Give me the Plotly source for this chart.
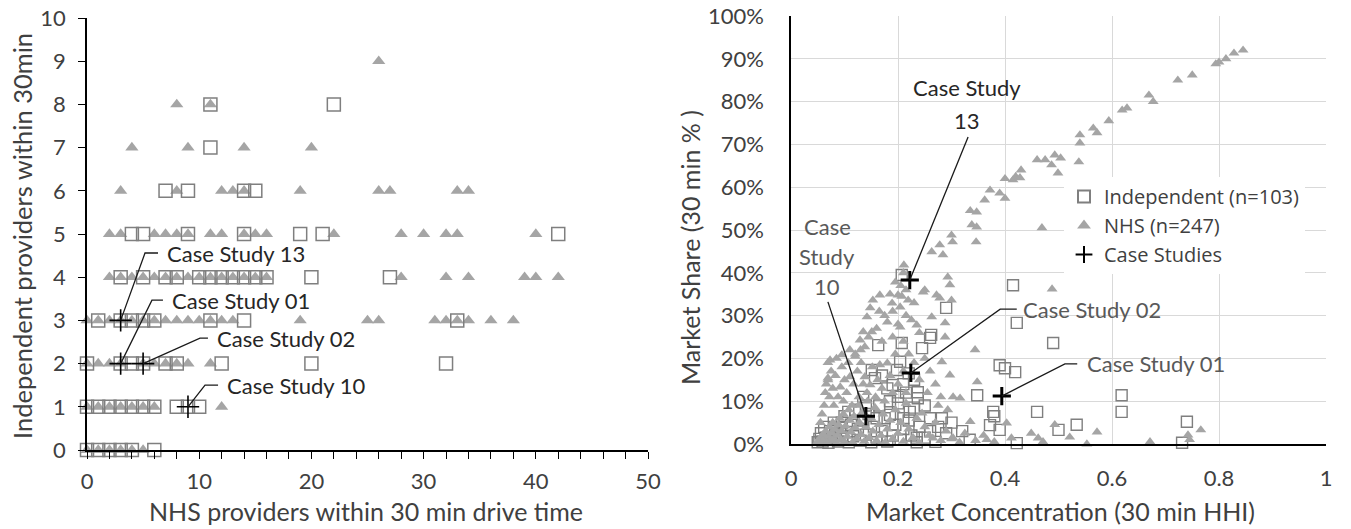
import plotly.graph_objects as go

# the page body has an 8px margin, so window pixel p sits at figure pixel p - OFF
OFF = 8
FW, FH = 1351, 529

# ---------------- Left panel data (x = NHS providers, grouped by y = independent providers) ----------------
nhs_row0 = [0, 1, 2, 3, 4, 5]
nhs_row1 = [0, 1, 2, 3, 4, 5, 6, 12]
nhs_row2 = [0, 1, 2, 3, 5, 6, 7, 8, 9, 11]
nhs_row3 = [0, 1, 2, 3, 4, 5, 6, 7, 8, 9, 10, 11, 12, 13, 19, 25, 26, 31, 32, 33, 34, 36, 38]
nhs_row4 = [2, 3, 4, 5, 6, 7, 8, 9, 10, 11, 12, 13, 14, 15, 16, 28, 32, 34, 39, 40, 42]
nhs_row5 = [2, 3, 6, 7, 8, 9, 11, 12, 14, 15, 16, 22, 28, 30, 32, 33, 40]
nhs_row6 = [3, 8, 12, 13, 14, 19, 26, 27, 33, 34]
nhs_row7 = [4, 9, 14, 20]
nhs_row8 = [8, 11]
nhs_row9 = [26]

ind_row0 = [0, 1, 2, 3, 4, 6]
ind_row1 = [0, 1, 2, 3, 4, 5, 6, 8, 9, 10]
ind_row2 = [0, 3, 4, 5, 7, 8, 12, 20, 32]
ind_row3 = [1, 3, 4, 5, 6, 11, 14, 33]
ind_row4 = [3, 5, 7, 8, 10, 11, 12, 13, 14, 15, 16, 20, 27]
ind_row5 = [4, 5, 9, 14, 19, 21, 42]
ind_row6 = [7, 9, 14, 15]
ind_row7 = [11]
ind_row8 = [11, 22]

cs_names = ["Case Study 13", "Case Study 01", "Case Study 02", "Case Study 10"]
cs_left_x = [3, 3, 5, 9]
cs_left_y = [3, 2, 2, 1]

# ---------------- Right panel data (HHI, market share) ----------------
nhs_points = [
    # upper frontier
    (0.845, 0.920), (0.828, 0.913), (0.813, 0.900), (0.800, 0.892), (0.794, 0.888),
    (0.750, 0.862), (0.723, 0.850), (0.677, 0.800), (0.669, 0.815), (0.628, 0.785),
    (0.619, 0.780), (0.594, 0.755), (0.572, 0.727), (0.565, 0.738), (0.540, 0.722),
    (0.540, 0.703), (0.538, 0.659), (0.504, 0.668), (0.493, 0.675), (0.487, 0.652),
    (0.499, 0.633), (0.475, 0.664), (0.460, 0.664), (0.430, 0.640), (0.415, 0.617),
    (0.420, 0.625), (0.428, 0.622), (0.400, 0.620), (0.372, 0.593), (0.390, 0.586),
    (0.362, 0.570), (0.400, 0.574), (0.335, 0.545), (0.347, 0.542), (0.338, 0.512),
    (0.347, 0.507), (0.346, 0.472), (0.300, 0.488), (0.302, 0.472), (0.278, 0.465),
    (0.263, 0.449), (0.284, 0.442), (0.211, 0.418), (0.469, 0.505), (0.488, 0.362),
    # middle band
    (0.195, 0.378), (0.293, 0.390), (0.297, 0.372), (0.250, 0.360), (0.166, 0.348),
    (0.200, 0.348), (0.207, 0.345), (0.219, 0.336), (0.272, 0.348), (0.278, 0.341),
    (0.300, 0.336), (0.153, 0.336), (0.189, 0.329), (0.204, 0.320), (0.148, 0.318),
    (0.142, 0.297), (0.180, 0.285), (0.235, 0.278), (0.263, 0.297), (0.288, 0.283),
    (0.204, 0.273), (0.135, 0.262), (0.151, 0.262), (0.288, 0.250), (0.247, 0.355),
    (0.129, 0.243), (0.138, 0.227), (0.344, 0.220), (0.282, 0.192), (0.297, 0.161),
    (0.073, 0.196), (0.095, 0.208), (0.069, 0.154), (0.348, 0.145), (0.303, 0.110),
    (0.316, 0.107), (0.335, 0.052), (0.293, 0.080), (0.245, 0.072), (0.403, 0.049),
    (0.265, 0.014), (0.303, 0.014), (0.366, 0.010), (0.493, 0.045), (0.572, 0.028),
    (0.521, 0.016), (0.553, 0.000), (0.449, 0.025), (0.462, 0.014), (0.471, 0.005),
    (0.412, 0.014), (0.766, 0.033), (0.742, 0.021), (0.745, 0.010), (0.671, 0.005),
    (0.190, 0.250), (0.210, 0.240), (0.160, 0.270), (0.170, 0.240), (0.120, 0.210),
    (0.110, 0.220), (0.130, 0.220), (0.145, 0.250), (0.175, 0.300), (0.190, 0.310),
    (0.165, 0.310), (0.185, 0.350), (0.210, 0.400), (0.205, 0.370), (0.215, 0.360),
    (0.230, 0.330), (0.225, 0.290), (0.240, 0.260), (0.200, 0.280), (0.215, 0.300),
    # wedge
    (0.055, 0.050), (0.058, 0.070), (0.062, 0.090), (0.064, 0.120), (0.066, 0.140),
    (0.069, 0.150), (0.069, 0.190), (0.072, 0.110), (0.075, 0.170), (0.078, 0.130),
    (0.080, 0.090), (0.083, 0.160), (0.085, 0.200), (0.088, 0.110), (0.092, 0.133),
    (0.095, 0.180), (0.098, 0.100), (0.100, 0.150), (0.104, 0.120), (0.107, 0.190),
    (0.110, 0.157), (0.114, 0.090), (0.117, 0.140), (0.120, 0.205), (0.124, 0.170),
    (0.127, 0.110), (0.131, 0.190), (0.135, 0.140), (0.138, 0.157), (0.142, 0.120),
    (0.148, 0.138), (0.152, 0.180), (0.158, 0.110), (0.162, 0.150), (0.166, 0.185),
    (0.170, 0.130), (0.175, 0.100), (0.180, 0.189), (0.185, 0.160), (0.190, 0.120),
    (0.195, 0.210), (0.200, 0.140), (0.210, 0.170), (0.215, 0.120), (0.220, 0.210),
    (0.230, 0.190), (0.240, 0.150), (0.250, 0.200), (0.255, 0.120), (0.260, 0.170),
    (0.270, 0.140), (0.275, 0.090), (0.280, 0.110),
    # dense low-share cluster
    (0.048, 0.002), (0.052, 0.008), (0.055, 0.015), (0.058, 0.004), (0.060, 0.022),
    (0.062, 0.010), (0.065, 0.030), (0.067, 0.003), (0.070, 0.018), (0.072, 0.040),
    (0.074, 0.008), (0.076, 0.026), (0.078, 0.050), (0.080, 0.012), (0.082, 0.034),
    (0.085, 0.002), (0.087, 0.020), (0.089, 0.045), (0.091, 0.060), (0.093, 0.010),
    (0.095, 0.030), (0.098, 0.070), (0.100, 0.005), (0.102, 0.042), (0.105, 0.018),
    (0.108, 0.080), (0.110, 0.055), (0.112, 0.028), (0.115, 0.004), (0.118, 0.065),
    (0.120, 0.038), (0.123, 0.012), (0.126, 0.090), (0.128, 0.050), (0.131, 0.022),
    (0.134, 0.075), (0.137, 0.006), (0.140, 0.040), (0.143, 0.100), (0.146, 0.015),
    (0.150, 0.060), (0.153, 0.030), (0.157, 0.085), (0.160, 0.008), (0.164, 0.045),
    (0.168, 0.020), (0.172, 0.070), (0.176, 0.004), (0.180, 0.035), (0.185, 0.055),
    (0.190, 0.012), (0.195, 0.080), (0.200, 0.025), (0.205, 0.050), (0.210, 0.006),
    (0.215, 0.095), (0.220, 0.035), (0.228, 0.015), (0.235, 0.060), (0.240, 0.003),
    (0.250, 0.040), (0.258, 0.020), (0.270, 0.050), (0.280, 0.008), (0.290, 0.030),
    (0.300, 0.012), (0.315, 0.004), (0.325, 0.025), (0.345, 0.008), (0.360, 0.020),
    (0.380, 0.005),
]

ind_points = [
    (0.163, 0.231), (0.207, 0.236), (0.245, 0.224), (0.260, 0.248), (0.262, 0.255),
    (0.290, 0.318), (0.207, 0.395), (0.415, 0.371), (0.422, 0.283), (0.490, 0.236),
    (0.419, 0.168), (0.618, 0.114), (0.618, 0.075), (0.460, 0.075), (0.740, 0.052),
    (0.731, 0.003), (0.534, 0.045), (0.500, 0.033), (0.422, 0.002), (0.204, 0.192),
    (0.390, 0.184), (0.400, 0.177), (0.348, 0.114), (0.237, 0.121), (0.237, 0.107),
    (0.378, 0.075), (0.380, 0.065), (0.260, 0.060), (0.282, 0.060), (0.222, 0.075),
    (0.372, 0.044), (0.390, 0.033), (0.290, 0.025), (0.334, 0.010), (0.235, 0.015),
    (0.135, 0.110), (0.157, 0.154), (0.190, 0.138), (0.198, 0.173), (0.151, 0.173),
    (0.107, 0.075),
    (0.050, 0.004), (0.053, 0.012), (0.056, 0.025), (0.059, 0.006), (0.062, 0.040),
    (0.066, 0.015), (0.070, 0.003), (0.073, 0.030), (0.077, 0.010), (0.080, 0.050),
    (0.084, 0.020), (0.088, 0.006), (0.092, 0.038), (0.096, 0.015), (0.100, 0.065),
    (0.104, 0.028), (0.108, 0.004), (0.112, 0.045), (0.116, 0.018), (0.120, 0.080),
    (0.125, 0.035), (0.130, 0.008), (0.135, 0.055), (0.140, 0.022), (0.145, 0.070),
    (0.150, 0.004), (0.155, 0.040), (0.160, 0.015), (0.165, 0.090), (0.170, 0.030),
    (0.175, 0.060), (0.180, 0.006), (0.185, 0.068), (0.190, 0.020), (0.195, 0.045),
    (0.200, 0.095), (0.205, 0.010), (0.210, 0.035), (0.215, 0.120), (0.220, 0.055),
    (0.225, 0.020), (0.230, 0.085), (0.235, 0.004), (0.240, 0.040), (0.250, 0.015),
    (0.260, 0.030), (0.270, 0.005), (0.180, 0.130), (0.170, 0.160), (0.200, 0.110),
    (0.210, 0.140), (0.220, 0.165), (0.230, 0.150), (0.095, 0.050), (0.140, 0.090),
    (0.160, 0.060), (0.185, 0.100), (0.210, 0.060), (0.250, 0.090), (0.275, 0.040),
    (0.300, 0.050), (0.320, 0.030),
]

cs_right_hhi = [0.222, 0.394, 0.224, 0.140]
cs_right_share = [0.383, 0.112, 0.166, 0.065]

# ---------------- styles ----------------
FONT = "Lato"
TXT = "#404040"
TRI = "#A5A5A5"
SQ = "#7F7F7F"


def px_x(p):
    # window pixel -> figure paper fraction
    return (p - OFF) / FW


def px_y(p):
    return 1 - (p - OFF) / FH


nhs_rows = [nhs_row0, nhs_row1, nhs_row2, nhs_row3, nhs_row4, nhs_row5, nhs_row6, nhs_row7, nhs_row8, nhs_row9]
ind_rows = [ind_row0, ind_row1, ind_row2, ind_row3, ind_row4, ind_row5, ind_row6, ind_row7, ind_row8]
nhs_lx = [x for r in nhs_rows for x in r]
nhs_ly = [i for i, r in enumerate(nhs_rows) for _ in r]
ind_lx = [x for r in ind_rows for x in r]
ind_ly = [i for i, r in enumerate(ind_rows) for _ in r]

fig = go.Figure()

# left panel
fig.add_trace(go.Scatter(x=nhs_lx, y=nhs_ly, mode="markers", xaxis="x", yaxis="y", showlegend=False,
                         cliponaxis=False,
                         marker=dict(symbol="triangle-up", size=11.5, color=TRI, line=dict(width=0))))
fig.add_trace(go.Scatter(x=ind_lx, y=ind_ly, mode="markers", xaxis="x", yaxis="y", showlegend=False,
                         cliponaxis=False,
                         marker=dict(symbol="square-open", size=13, color=SQ, line=dict(width=1.5, color=SQ))))
fig.add_trace(go.Scatter(x=cs_left_x, y=cs_left_y, mode="markers", xaxis="x", yaxis="y", showlegend=False,
                         cliponaxis=False,
                         marker=dict(symbol="cross-thin", size=16, color="black", line=dict(width=1.6, color="black"))))

# right panel
fig.add_trace(go.Scatter(x=[p[0] for p in ind_points], y=[p[1] for p in ind_points], mode="markers",
                         xaxis="x2", yaxis="y2", name="Independent (n=103)", cliponaxis=False,
                         marker=dict(symbol="square-open", size=11, color=SQ, line=dict(width=1.4, color=SQ))))
fig.add_trace(go.Scatter(x=[p[0] for p in nhs_points], y=[p[1] for p in nhs_points], mode="markers",
                         xaxis="x2", yaxis="y2", name="NHS (n=247)", cliponaxis=False,
                         marker=dict(symbol="triangle-up", size=9.5, color=TRI, line=dict(width=0))))
fig.add_trace(go.Scatter(x=cs_right_hhi, y=cs_right_share, mode="markers",
                         xaxis="x2", yaxis="y2", name="Case Studies", cliponaxis=False,
                         marker=dict(symbol="cross-thin", size=13, color="black", line=dict(width=3, color="black"))))

# ---------------- leader lines & labels ----------------
shapes = []
annotations = []
ANN = 22

# left panel: (elbow x, elbow y, end x) in data units, then text
left_leaders = [(5.17, 4.56, 6.33), (5.79, 3.47, 6.77), (10.07, 2.59, 10.78), (10.52, 1.50, 11.68)]
for (ex, ey, hx), cx, cy, name in zip(left_leaders, cs_left_x, cs_left_y, cs_names):
    shapes.append(dict(type="path", xref="x", yref="y",
                       path=f"M{cx},{cy} L{ex},{ey} L{hx},{ey}",
                       line=dict(color="#1a1a1a", width=1.3)))
    annotations.append(dict(x=hx + 0.6, y=ey, xref="x", yref="y", text=name, showarrow=False,
                            xanchor="left", yanchor="middle",
                            font=dict(family=FONT, size=ANN, color="#262626")))

# right panel
# CS13: straight line to label
shapes.append(dict(type="line", xref="x2", yref="y2", x0=0.222, y0=0.383, x1=0.331, y1=0.717,
                   line=dict(color="#1a1a1a", width=1.3)))
annotations.append(dict(x=0.329, y=0.832, xref="x2", yref="y2", text="Case Study", showarrow=False,
                        xanchor="center", yanchor="middle",
                        font=dict(family=FONT, size=ANN, color="#262626")))
annotations.append(dict(x=0.329, y=0.755, xref="x2", yref="y2", text="13", showarrow=False,
                        xanchor="center", yanchor="middle",
                        font=dict(family=FONT, size=ANN, color="#262626")))
# CS10
shapes.append(dict(type="line", xref="x2", yref="y2", x0=0.140, y0=0.065, x1=0.069, y1=0.332,
                   line=dict(color="#1a1a1a", width=1.3)))
for t, yy in zip(["Case", "Study", "10"], [0.509, 0.439, 0.369]):
    annotations.append(dict(x=0.068, y=yy, xref="x2", yref="y2", text=t, showarrow=False,
                            xanchor="center", yanchor="middle",
                            font=dict(family=FONT, size=ANN, color="#595959")))
# CS02
shapes.append(dict(type="path", xref="x2", yref="y2",
                   path="M0.224,0.166 L0.391,0.315 L0.422,0.315",
                   line=dict(color="#1a1a1a", width=1.3)))
annotations.append(dict(x=0.430, y=0.315, xref="x2", yref="y2", text="Case Study 02", showarrow=False,
                        xanchor="left", yanchor="middle",
                        font=dict(family=FONT, size=ANN, color="#595959")))
# CS01
shapes.append(dict(type="path", xref="x2", yref="y2",
                   path="M0.394,0.112 L0.512,0.187 L0.535,0.187",
                   line=dict(color="#1a1a1a", width=1.3)))
annotations.append(dict(x=0.549, y=0.187, xref="x2", yref="y2", text="Case Study 01", showarrow=False,
                        xanchor="left", yanchor="middle",
                        font=dict(family=FONT, size=ANN, color="#595959")))

# axis titles
TT = 25
for tx, ty, txt, ang, sz in [
    (22, 236, "Independent providers within 30min", -90, 25.5),
    (366, 511, "NHS providers within 30 min drive time", 0, TT),
    (690, 248, "Market Share (30 min % )", -90, TT),
    (1060, 511, "Market Concentration (30 min HHI)", 0, TT),
]:
    annotations.append(dict(x=px_x(tx), y=px_y(ty), xref="paper", yref="paper", text=txt,
                            textangle=ang, showarrow=False, xanchor="center", yanchor="middle",
                            font=dict(family=FONT, size=sz, color=TXT)))

tickfont = dict(family=FONT, size=22, color=TXT)

fig.update_layout(
    width=FW, height=FH,
    margin=dict(l=0, r=0, t=0, b=0, autoexpand=False),
    paper_bgcolor="white", plot_bgcolor="white",
    xaxis=dict(domain=[px_x(87), px_x(648)], range=[0, 50], anchor="y", automargin=False,
               showgrid=False, zeroline=False, showline=True, linecolor="black", linewidth=1.5,
               tickmode="linear", tick0=0, dtick=10, ticks="outside", ticklen=7, tickwidth=1.2,
               tickcolor="black", tickfont=tickfont, ticklabelstandoff=4, ticklabeloverflow="allow",
               minor=dict(dtick=2, ticks="outside", ticklen=7, tickwidth=1.2, tickcolor="black",
                          showgrid=False)),
    yaxis=dict(domain=[px_y(450), px_y(18)], range=[0, 10], anchor="x", automargin=False,
               showgrid=False, zeroline=False, showline=True, linecolor="black", linewidth=1.5,
               tickmode="linear", tick0=0, dtick=1, ticks="outside", ticklen=7, tickwidth=1.2,
               tickcolor="black", tickfont=tickfont, ticklabelstandoff=8, ticklabeloverflow="allow"),
    xaxis2=dict(domain=[px_x(791), px_x(1326)], range=[0, 1], anchor="y2", automargin=False,
                showgrid=True, gridcolor="#D9D9D9", gridwidth=1.2, zeroline=False,
                showline=True, linecolor="black", linewidth=1.5,
                tickmode="linear", tick0=0, dtick=0.2, ticks="", tickfont=tickfont,
                ticklabelstandoff=14, tickformat="~g", ticklabeloverflow="allow"),
    yaxis2=dict(domain=[px_y(444), px_y(16)], range=[0, 1], anchor="x2", automargin=False,
                showgrid=True, gridcolor="#D9D9D9", gridwidth=1.2, zeroline=False,
                showline=True, linecolor="black", linewidth=1.5,
                tickmode="linear", tick0=0, dtick=0.1, ticks="", tickfont=tickfont,
                ticklabelstandoff=21, tickformat=".0%", ticklabeloverflow="allow"),
    legend=dict(x=px_x(1064), y=px_y(177), xanchor="left", yanchor="top",
                bgcolor="white", font=dict(family="Open Sans", size=20, color=TXT),
                itemsizing="constant", tracegroupgap=0),
    shapes=shapes,
    annotations=annotations,
)

fig.write_html("out.html")
